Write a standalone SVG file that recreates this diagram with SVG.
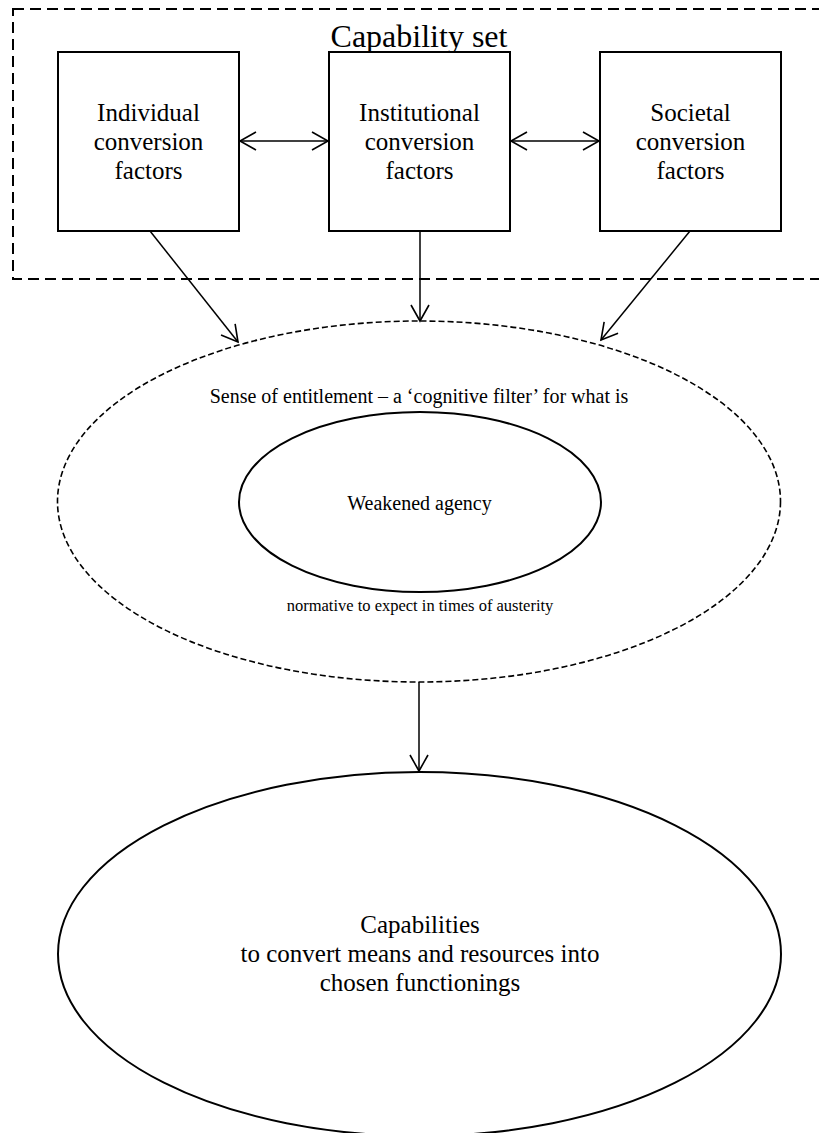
<svg xmlns="http://www.w3.org/2000/svg" width="819" height="1133" viewBox="0 0 819 1133">
<style>
.box{fill:#fff;stroke:#000;stroke-width:2}
.t{font-family:"Liberation Serif","Times New Roman",serif;fill:#000;text-anchor:middle}
.c{stroke:#000;stroke-width:1.5;fill:none}
</style>
<defs>
<marker id="arr" viewBox="0 0 20 20" refX="17" refY="10" markerWidth="20" markerHeight="20" markerUnits="userSpaceOnUse" orient="auto-start-reverse">
<path d="M1,1 L17,10 L1,19" fill="none" stroke="#000" stroke-width="1.6"/>
</marker>
</defs>
<rect width="819" height="1133" fill="#fff"/>
<g id="capability-set">
<rect x="13" y="9" width="830" height="270" fill="none" stroke="#000" stroke-width="2" stroke-dasharray="11,6"/>
<text class="t" x="419" y="47" font-size="32">Capability set</text>
</g>
<g id="individual">
<rect class="box" x="58" y="52" width="181" height="179"/>
<text class="t" font-size="25"><tspan x="148.5" y="121">Individual</tspan><tspan x="148.5" y="150">conversion</tspan><tspan x="148.5" y="179">factors</tspan></text>
</g>
<g id="institutional">
<rect class="box" x="329" y="52" width="181" height="179"/>
<text class="t" font-size="25"><tspan x="419.5" y="121">Institutional</tspan><tspan x="419.5" y="150">conversion</tspan><tspan x="419.5" y="179">factors</tspan></text>
</g>
<g id="societal">
<rect class="box" x="600" y="52" width="181" height="179"/>
<text class="t" font-size="25"><tspan x="690.5" y="121">Societal</tspan><tspan x="690.5" y="150">conversion</tspan><tspan x="690.5" y="179">factors</tspan></text>
</g>
<g id="entitlement">
<ellipse cx="419" cy="501.5" rx="361.5" ry="180.5" fill="none" stroke="#000" stroke-width="1.6" stroke-dasharray="6,3"/>
<text class="t" x="419" y="403" font-size="20">Sense of entitlement – a ‘cognitive filter’ for what is</text>
<text class="t" x="420" y="611" font-size="16.5">normative to expect in times of austerity</text>
</g>
<g id="weakened-agency">
<ellipse cx="420" cy="502" rx="181" ry="90" fill="none" stroke="#000" stroke-width="2"/>
<text class="t" x="419.5" y="510" font-size="20">Weakened agency</text>
</g>
<g id="capabilities">
<ellipse cx="419.5" cy="954" rx="361.5" ry="182" fill="none" stroke="#000" stroke-width="2"/>
<text class="t" font-size="25"><tspan x="420" y="933">Capabilities</tspan><tspan x="420" y="962">to convert means and resources into</tspan><tspan x="420" y="991">chosen functionings</tspan></text>
</g>
<g id="connectors">
<line class="c" x1="240" y1="141" x2="328" y2="141" marker-start="url(#arr)" marker-end="url(#arr)"/>
<line class="c" x1="511" y1="141" x2="599" y2="141" marker-start="url(#arr)" marker-end="url(#arr)"/>
<line class="c" x1="150" y1="231" x2="238" y2="342" marker-end="url(#arr)"/>
<line class="c" x1="420" y1="231" x2="420" y2="321" marker-end="url(#arr)"/>
<line class="c" x1="690" y1="231" x2="601" y2="340" marker-end="url(#arr)"/>
<line class="c" x1="419" y1="682" x2="419" y2="771" marker-end="url(#arr)"/>
</g>
</svg>
